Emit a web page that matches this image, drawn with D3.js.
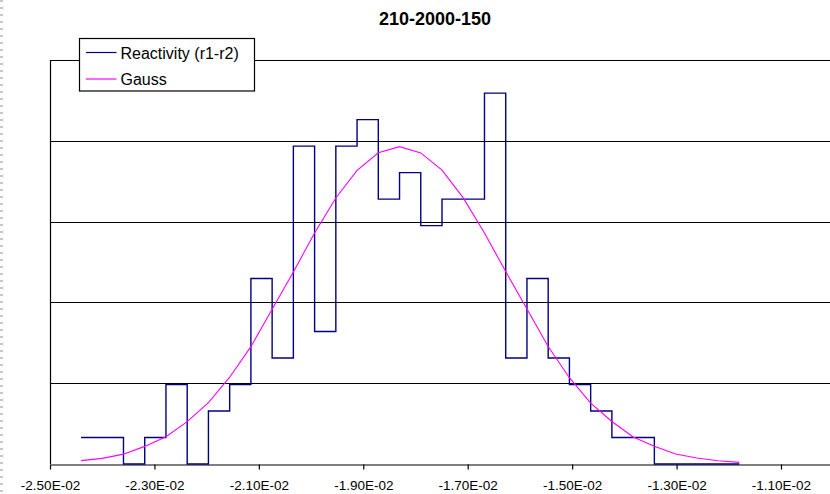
<!DOCTYPE html>
<html>
<head>
<meta charset="utf-8">
<script src="https://cdn.jsdelivr.net/npm/d3@7"></script>
<style>
  body { margin: 0; background: #fff; }
  text { font-family: "Liberation Sans", Arial, sans-serif; }
</style>
</head>
<body>
<script>
// histogram of reactivity differences, 150 samples, bins
var sampleCount = 150;
var binStart = -0.024406;
var binWidth = 0.0004067;
var counts = [ 1, 1, 0, 1, 3, 0, 2, 3, 7, 4, 12, 5, 12, 13, 10, 11, 9, 10, 10, 14, 4, 7, 4, 3, 2, 1, 1, 0, 0, 0, 0 ];

// fitted gauss curve (density), one point per bin edge
var gauss = [ 2.1, 3.5, 6.1, 10.9, 16.9, 26.2, 38.0, 53.7, 72.6, 95.8, 118.8, 143.0, 164.6, 181.7, 192.6, 196.4,
              192.5, 181.9, 164.7, 142.9, 119.1, 95.9, 72.7, 53.4, 37.7, 26.3, 16.7, 11.0, 6.2, 3.7, 2.0, 1.0 ];

var xTicks = [ -0.025, -0.023, -0.021, -0.019, -0.017, -0.015, -0.013, -0.011 ];
var yGrid = [ 50, 100, 150, 200, 250 ];
var seriesNames = [ "Reactivity (r1-r2)", "Gauss" ];
var seriesColors = [ "#000080", "#ff00ff" ];
var title = "210-2000-150";

var width = 830, height = 494;

var svg = d3.select( "body" )
            .append( "svg" )
              .attr( "width", width )
              .attr( "height", height );

var x = d3.scaleLinear()
          .domain( [ -0.025, -0.010 ] )
          .range( [ 50, 833.2 ] );

var y = d3.scaleLinear()
          .domain( [ 0, 250 ] )
          .range( [ 464, 60 ] );

// dotted frame edge on the far left
svg.append( "line" )
  .attr( "x1", 1.5 ).attr( "x2", 1.5 )
  .attr( "y1", 0 ).attr( "y2", height )
  .attr( "stroke", "#c8c8c8" )
  .attr( "stroke-width", 3 )
  .attr( "stroke-dasharray", "2,5" );

// horizontal gridlines (top one is the plot border)
svg.selectAll( "line.grid" )
  .data( yGrid )
  .enter()
  .append( "line" )
    .attr( "class", "grid" )
    .attr( "x1", x.range()[0] )
    .attr( "x2", x.range()[1] )
    .attr( "y1", function(d){ return Math.round( y(d) ) + 0.5; } )
    .attr( "y2", function(d){ return Math.round( y(d) ) + 0.5; } )
    .attr( "stroke", "#000" )
    .attr( "stroke-width", 1.2 );

// left border
svg.append( "line" )
  .attr( "x1", 50.5 ).attr( "x2", 50.5 )
  .attr( "y1", y(250) ).attr( "y2", y(0) )
  .attr( "stroke", "#000" )
  .attr( "stroke-width", 1.2 );

// x axis in Excel style labels like -2.50E-02
function excelSci( v ){
  var s = v.toExponential( 2 ).split( "e" );
  var e = parseInt( s[1], 10 );
  var es = ( e < 0 ? "-" : "+" ) + ( Math.abs( e ) < 10 ? "0" : "" ) + Math.abs( e );
  return s[0] + "E" + es;
}

var xAxis = d3.axisBottom( x )
              .tickValues( xTicks )
              .tickSize( 5 )
              .tickSizeOuter( 0 )
              .tickPadding( 11 )
              .tickFormat( excelSci );

var gx = svg.append( "g" )
  .attr( "transform", "translate(0," + ( Math.round( y(0) ) + 0.5 ) + ")" )
  .call( xAxis );

gx.select( ".domain" ).attr( "stroke", "#000" ).attr( "stroke-width", 1.2 );
gx.selectAll( ".tick line" ).attr( "stroke", "#000" ).attr( "stroke-width", 1.2 );
gx.selectAll( ".tick text" )
  .attr( "fill", "#000" )
  .style( "font-size", "13.5px" )
  .style( "font-family", "'Liberation Sans', Arial, sans-serif" );

// histogram as a step line: counts -> density
var stepPts = counts.map( function(c, i){
  return [ binStart + i * binWidth, c / ( sampleCount * binWidth ) ];
});
stepPts.push( [ binStart + counts.length * binWidth, counts[ counts.length - 1 ] / ( sampleCount * binWidth ) ] );

var stepLine = d3.line()
                 .x( function(d){ return x( d[0] ); } )
                 .y( function(d){ return y( d[1] ); } )
                 .curve( d3.curveStepAfter );

svg.append( "path" )
  .datum( stepPts )
  .attr( "d", stepLine )
  .attr( "fill", "none" )
  .attr( "stroke", seriesColors[0] )
  .attr( "stroke-width", 1.4 );

// gauss curve
var gaussLine = d3.line()
                  .x( function(d, i){ return x( binStart + i * binWidth ); } )
                  .y( function(d){ return y( d ); } );

svg.append( "path" )
  .datum( gauss )
  .attr( "d", gaussLine )
  .attr( "fill", "none" )
  .attr( "stroke", seriesColors[1] )
  .attr( "stroke-width", 1.1 );

// title
svg.append( "text" )
  .attr( "x", 435 )
  .attr( "y", 25 )
  .attr( "text-anchor", "middle" )
  .style( "font-size", "18px" )
  .style( "font-weight", "bold" )
  .text( title );

// legend box sits over the top border
var legend = svg.append( "g" ).attr( "transform", "translate(79.5,38.5)" );

legend.append( "rect" )
  .attr( "width", 175 )
  .attr( "height", 52.5 )
  .attr( "fill", "#fff" )
  .attr( "stroke", "#000" )
  .attr( "stroke-width", 1.2 );

var items = legend.selectAll( "g.item" )
  .data( seriesNames )
  .enter()
  .append( "g" )
    .attr( "class", "item" )
    .attr( "transform", function(d, i){ return "translate(0," + ( 14 + i * 26.5 ) + ")"; } );

items.append( "line" )
  .attr( "x1", 6.5 ).attr( "x2", 37 )
  .attr( "y1", 0 ).attr( "y2", 0 )
  .attr( "stroke", function(d, i){ return seriesColors[i]; } )
  .attr( "stroke-width", 1.2 );

items.append( "text" )
  .attr( "x", 41 )
  .attr( "y", 6 )
  .style( "font-size", "16px" )
  .text( function(d){ return d; } );
</script>
</body>
</html>
